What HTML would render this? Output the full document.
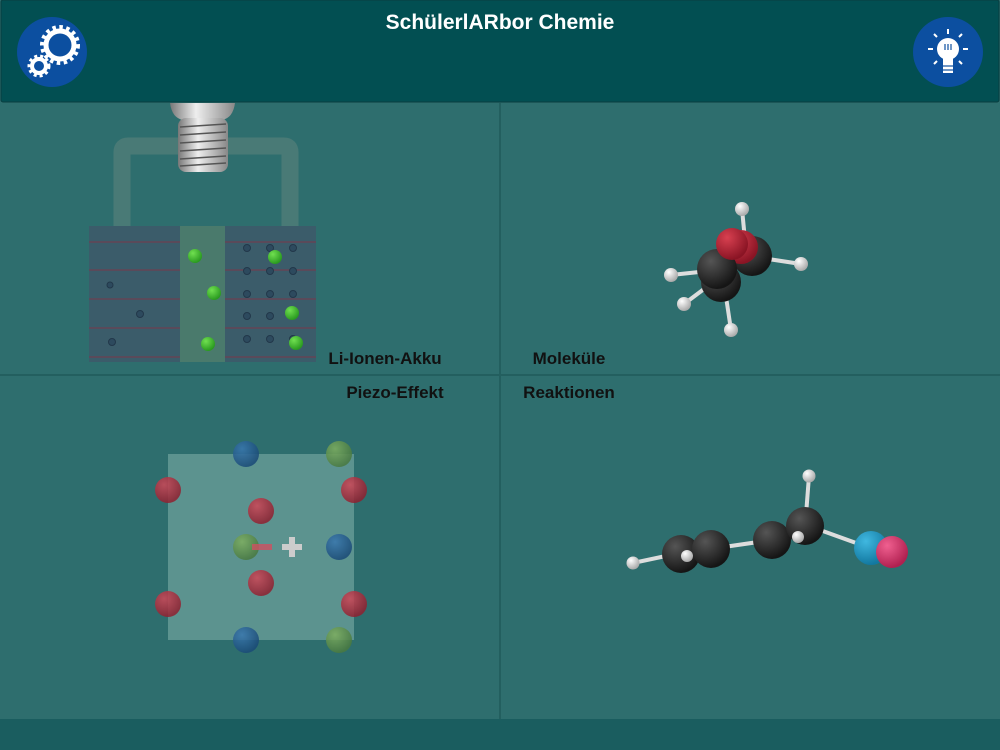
<!DOCTYPE html>
<html><head><meta charset="utf-8"><style>
body{margin:0;width:1000px;height:750px;overflow:hidden;background:#2e6e6e;font-family:"Liberation Sans",sans-serif}
</style></head><body>
<svg width="1000" height="750" viewBox="0 0 1000 750" xmlns="http://www.w3.org/2000/svg" style="position:absolute;left:0;top:0">
<defs>
<radialGradient id="blk" cx="0.35" cy="0.3" r="0.7"><stop offset="0" stop-color="#555"/><stop offset="1" stop-color="#151515"/></radialGradient>
<radialGradient id="red" cx="0.35" cy="0.3" r="0.7"><stop offset="0" stop-color="#d84050"/><stop offset="1" stop-color="#8a1424"/></radialGradient>
<radialGradient id="wht" cx="0.35" cy="0.3" r="0.7"><stop offset="0" stop-color="#fff"/><stop offset="1" stop-color="#aaa"/></radialGradient>
<radialGradient id="cy" cx="0.35" cy="0.3" r="0.7"><stop offset="0" stop-color="#40b8e0"/><stop offset="1" stop-color="#1278a0"/></radialGradient>
<radialGradient id="pk" cx="0.35" cy="0.3" r="0.7"><stop offset="0" stop-color="#f06090"/><stop offset="1" stop-color="#b02050"/></radialGradient>
<radialGradient id="gr" cx="0.35" cy="0.3" r="0.7"><stop offset="0" stop-color="#70e050"/><stop offset="1" stop-color="#2a9a20"/></radialGradient>
<radialGradient id="pr" cx="0.35" cy="0.3" r="0.7"><stop offset="0" stop-color="#d04858"/><stop offset="1" stop-color="#902030"/></radialGradient>
<radialGradient id="pb" cx="0.35" cy="0.3" r="0.7"><stop offset="0" stop-color="#3a78b0"/><stop offset="1" stop-color="#1a4a78"/></radialGradient>
<radialGradient id="pg" cx="0.35" cy="0.3" r="0.7"><stop offset="0" stop-color="#80b060"/><stop offset="1" stop-color="#4a7a40"/></radialGradient>
<linearGradient id="bulb" x1="0" x2="1"><stop offset="0" stop-color="#777"/><stop offset="0.4" stop-color="#eee"/><stop offset="1" stop-color="#888"/></linearGradient>
</defs>
<rect x="499" y="103" width="2" height="617" fill="#235f5f"/>
<rect x="0" y="374" width="1000" height="2" fill="#235f5f"/>
<rect x="0" y="719" width="1000" height="31" fill="#1a5d5f"/>
<rect x="1" y="0" width="998" height="102" rx="2" fill="#024f52" stroke="#0a3e40"/>
<text x="500" y="29" font-size="21" font-weight="bold" fill="#fff" text-anchor="middle">SchülerlARbor Chemie</text>
<circle cx="52" cy="52" r="35" fill="#0c4fa0"/>
<circle cx="60" cy="45" r="14" fill="none" stroke="#fff" stroke-width="5"/>
<circle cx="60" cy="45" r="18" fill="none" stroke="#fff" stroke-width="4" stroke-dasharray="3.5 3.5"/>
<circle cx="39" cy="66" r="7" fill="none" stroke="#fff" stroke-width="4"/>
<circle cx="39" cy="66" r="10" fill="none" stroke="#fff" stroke-width="3" stroke-dasharray="3 3"/>
<circle cx="948" cy="52" r="35" fill="#0c4fa0"/>
<circle cx="948" cy="49" r="11" fill="#fff"/>
<rect x="943" y="55" width="10" height="18" fill="#fff"/>
<g stroke="#0c4fa0" stroke-width="1.2"><line x1="942" y1="66" x2="954" y2="66"/><line x1="942" y1="70" x2="954" y2="70"/><line x1="945" y1="44" x2="945" y2="50"/><line x1="948" y1="44" x2="948" y2="50"/><line x1="951" y1="44" x2="951" y2="50"/></g>
<g stroke="#fff" stroke-width="2"><line x1="948" y1="29" x2="948" y2="34"/><line x1="933" y1="49" x2="928" y2="49"/><line x1="963" y1="49" x2="968" y2="49"/><line x1="937" y1="37" x2="934" y2="34"/><line x1="959" y1="37" x2="962" y2="34"/><line x1="937" y1="61" x2="934" y2="64"/><line x1="959" y1="61" x2="962" y2="64"/></g>
<path d="M122 226 V152 Q122 146 128 146 H284 Q290 146 290 152 V226" fill="none" stroke="#497a76" stroke-width="17"/>
<path d="M170 103 H235 Q233 118 222 120 H183 Q172 118 170 103Z" fill="url(#bulb)"/>
<rect x="178" y="118" width="50" height="54" rx="8" fill="url(#bulb)"/>
<g stroke="#555" stroke-width="1.5">
<line x1="180" y1="127" x2="226" y2="124"/><line x1="180" y1="135" x2="226" y2="132"/><line x1="180" y1="143" x2="226" y2="140"/><line x1="180" y1="151" x2="226" y2="148"/><line x1="180" y1="159" x2="226" y2="156"/><line x1="180" y1="166" x2="226" y2="163"/></g>
<rect x="89" y="226" width="227" height="136" fill="#3b5c6a"/>
<rect x="180" y="226" width="45" height="136" fill="#4a7a6c"/>
<g stroke="#5a4a5a" stroke-width="2"><line x1="89" y1="242" x2="180" y2="242"/><line x1="89" y1="270" x2="180" y2="270"/><line x1="89" y1="299" x2="180" y2="299"/><line x1="89" y1="328" x2="180" y2="328"/><line x1="89" y1="357" x2="180" y2="357"/>
<line x1="225" y1="242" x2="316" y2="242"/><line x1="225" y1="270" x2="316" y2="270"/><line x1="225" y1="299" x2="316" y2="299"/><line x1="225" y1="328" x2="316" y2="328"/><line x1="225" y1="357" x2="316" y2="357"/></g>
<g fill="#2d4a5e" stroke="#22384a">
<circle cx="247" cy="248" r="3.5"/><circle cx="270" cy="248" r="3.5"/><circle cx="293" cy="248" r="3.5"/><circle cx="247" cy="271" r="3.5"/><circle cx="270" cy="271" r="3.5"/><circle cx="293" cy="271" r="3.5"/><circle cx="247" cy="294" r="3.5"/><circle cx="270" cy="294" r="3.5"/><circle cx="293" cy="294" r="3.5"/><circle cx="247" cy="316" r="3.5"/><circle cx="270" cy="316" r="3.5"/><circle cx="247" cy="339" r="3.5"/><circle cx="270" cy="339" r="3.5"/><circle cx="293" cy="339" r="3.5"/><circle cx="110" cy="285" r="3"/><circle cx="140" cy="314" r="3.5"/><circle cx="112" cy="342" r="3.5"/></g>
<g fill="url(#gr)"><circle cx="195" cy="256" r="7"/><circle cx="214" cy="293" r="7"/><circle cx="208" cy="344" r="7"/><circle cx="275" cy="257" r="7"/><circle cx="292" cy="313" r="7"/><circle cx="296" cy="343" r="7"/></g>
<text x="385" y="364" font-size="17" font-weight="bold" fill="#111" text-anchor="middle">Li-Ionen-Akku</text>
<text x="569" y="364" font-size="17" font-weight="bold" fill="#111" text-anchor="middle">Moleküle</text>
<text x="395" y="398" font-size="17" font-weight="bold" fill="#111" text-anchor="middle">Piezo-Effekt</text>
<text x="569" y="398" font-size="17" font-weight="bold" fill="#111" text-anchor="middle">Reaktionen</text>
<g stroke="#ddd" stroke-width="4"><line x1="742" y1="209" x2="745" y2="240"/><line x1="801" y1="264" x2="755" y2="257"/><line x1="671" y1="275" x2="718" y2="270"/><line x1="684" y1="304" x2="712" y2="283"/><line x1="731" y1="330" x2="725" y2="290"/></g>
<circle cx="752" cy="256" r="20" fill="url(#blk)"/>
<circle cx="741" cy="247" r="17" fill="url(#red)"/>
<circle cx="721" cy="282" r="20" fill="url(#blk)"/>
<circle cx="717" cy="269" r="20" fill="url(#blk)"/>
<circle cx="732" cy="244" r="16" fill="url(#red)"/>
<g fill="url(#wht)"><circle cx="742" cy="209" r="7"/><circle cx="801" cy="264" r="7"/><circle cx="671" cy="275" r="7"/><circle cx="684" cy="304" r="7"/><circle cx="731" cy="330" r="7"/></g>
<rect x="168" y="454" width="186" height="186" fill="#8ab8b0" opacity="0.5"/>
<g opacity="0.85">
<circle cx="246" cy="454" r="13" fill="url(#pb)"/><circle cx="339" cy="454" r="13" fill="url(#pg)"/>
<circle cx="168" cy="490" r="13" fill="url(#pr)"/><circle cx="354" cy="490" r="13" fill="url(#pr)"/>
<circle cx="261" cy="511" r="13" fill="url(#pr)"/>
<circle cx="246" cy="547" r="13" fill="url(#pg)"/><circle cx="339" cy="547" r="13" fill="url(#pb)"/>
<circle cx="261" cy="583" r="13" fill="url(#pr)"/>
<circle cx="168" cy="604" r="13" fill="url(#pr)"/><circle cx="354" cy="604" r="13" fill="url(#pr)"/>
<circle cx="246" cy="640" r="13" fill="url(#pb)"/><circle cx="339" cy="640" r="13" fill="url(#pg)"/></g>
<rect x="252" y="544" width="20" height="6" fill="#d05060" opacity="0.8"/>
<rect x="282" y="544" width="20" height="6" fill="#ccc"/><rect x="289" y="537" width="6" height="20" fill="#ccc"/>
<g stroke="#ddd" stroke-width="4"><line x1="633" y1="563" x2="680" y2="553"/><line x1="710" y1="549" x2="772" y2="540"/><line x1="772" y1="540" x2="805" y2="526"/><line x1="809" y1="476" x2="806" y2="515"/><line x1="820" y1="530" x2="870" y2="548"/></g>
<circle cx="681" cy="554" r="19" fill="url(#blk)"/>
<circle cx="711" cy="549" r="19" fill="url(#blk)"/>
<circle cx="772" cy="540" r="19" fill="url(#blk)"/>
<circle cx="805" cy="526" r="19" fill="url(#blk)"/>
<circle cx="871" cy="548" r="17" fill="url(#cy)"/>
<circle cx="892" cy="552" r="16" fill="url(#pk)"/>
<g fill="url(#wht)"><circle cx="633" cy="563" r="6.5"/><circle cx="687" cy="556" r="6"/><circle cx="798" cy="537" r="6"/><circle cx="809" cy="476" r="6.5"/></g>
</svg>
</body></html>
